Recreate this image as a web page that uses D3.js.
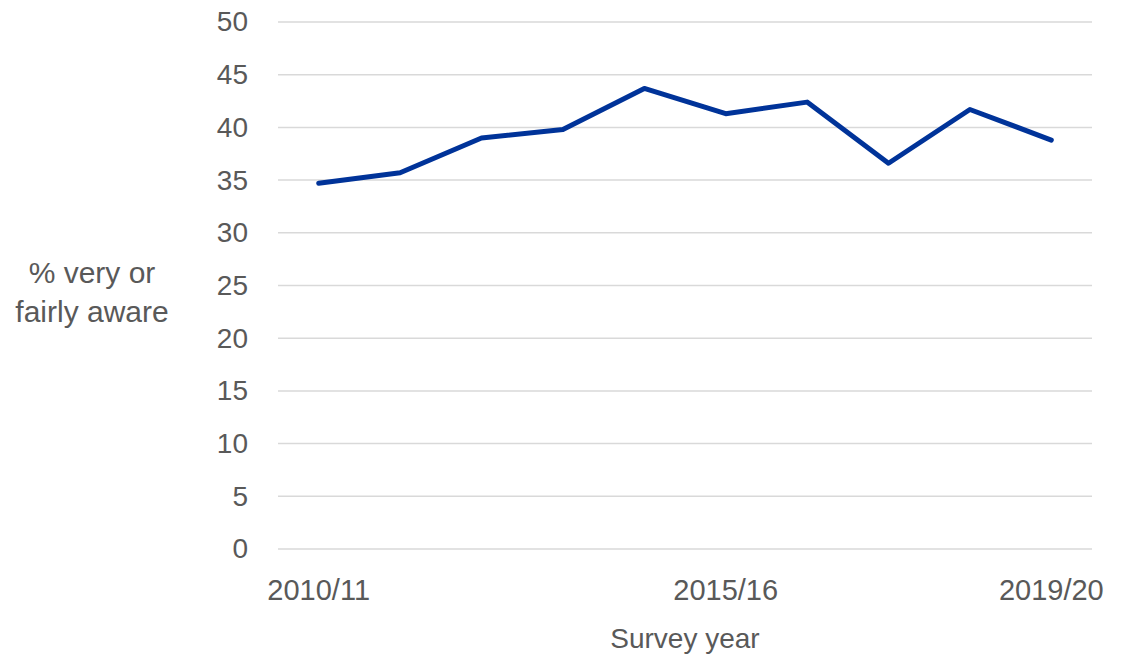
<!DOCTYPE html>
<html lang="en">
<head>
  <meta charset="UTF-8">
  <title>Awareness by survey year</title>
  <script src="https://d3js.org/d3.v7.min.js"></script>
  <style>
    body { margin: 0; background: #fff; }
    text { font-family: "Liberation Sans", Arial, sans-serif; fill: #595959; }
    .grid line { stroke: #d9d9d9; stroke-width: 1.5px; }
    .line { fill: none; stroke: #003399; stroke-width: 5px; stroke-linejoin: round; stroke-linecap: round; }
  </style>
</head>
<body>
  <svg width="1132" height="654"></svg>

  <script>
    // survey years and % very or fairly aware
    const years = ["2010/11", "2011/12", "2012/13", "2013/14", "2014/15",
                   "2015/16", "2016/17", "2017/18", "2018/19", "2019/20"];
    const aware = [34.7, 35.7, 39.0, 39.8, 43.7, 41.3, 42.4, 36.6, 41.7, 38.8];
    const shownYears = ["2010/11", "2015/16", "2019/20"];
    const yTicks = [0, 5, 10, 15, 20, 25, 30, 35, 40, 45, 50];

    const width = 1132;
    const height = 654;
    const margin = { top: 22, right: 40, bottom: 105, left: 278 };

    const svg = d3.select("svg");

    const x = d3.scaleBand()
      .domain(years)
      .range([margin.left, width - margin.right]);

    const y = d3.scaleLinear()
      .domain([0, 50])
      .range([height - margin.bottom, margin.top]);

    // gridlines
    svg.append("g")
      .attr("class", "grid")
      .selectAll("line")
      .data(yTicks)
      .join("line")
      .attr("x1", margin.left)
      .attr("x2", width - margin.right)
      .attr("y1", d => y(d))
      .attr("y2", d => y(d));

    // y axis labels
    const yAxis = svg.append("g")
      .attr("transform", `translate(${margin.left},0)`)
      .call(d3.axisLeft(y).tickValues(yTicks).tickSize(0).tickPadding(30));
    yAxis.select(".domain").remove();
    yAxis.selectAll("text")
      .attr("font-family", null)
      .style("font-size", "28px")
      .attr("fill", "#595959");

    // x axis labels, only a few years shown
    const xAxis = svg.append("g")
      .attr("transform", `translate(0,${height - margin.bottom})`)
      .call(d3.axisBottom(x).tickValues(shownYears).tickSize(0).tickPadding(30));
    xAxis.select(".domain").remove();
    xAxis.selectAll("text")
      .attr("font-family", null)
      .style("font-size", "29px")
      .attr("fill", "#595959");

    // line
    const line = d3.line()
      .x((d, i) => x(years[i]) + x.bandwidth() / 2)
      .y(d => y(d));

    svg.append("path")
      .datum(aware)
      .attr("class", "line")
      .attr("d", line);

    // axis titles
    svg.append("text")
      .attr("x", (margin.left + width - margin.right) / 2)
      .attr("y", 648)
      .attr("text-anchor", "middle")
      .style("font-size", "28px")
      .text("Survey year");

    const yTitle = svg.append("text")
      .attr("text-anchor", "middle")
      .style("font-size", "30px");
    yTitle.append("tspan").attr("x", 92).attr("y", 283).text("% very or");
    yTitle.append("tspan").attr("x", 92).attr("y", 322).text("fairly aware");
  </script>
</body>
</html>
